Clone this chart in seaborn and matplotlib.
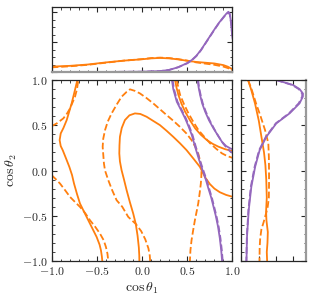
import matplotlib
matplotlib.use("Agg")
import matplotlib.pyplot as plt
from matplotlib.ticker import MultipleLocator, FixedLocator, FixedFormatter
import seaborn as sns

# --- colours ---
ORANGE = "#ff7f0e"
PURPLE = "#9467bd"

# --- main panel contours (cos theta_1, cos theta_2) ---
or_sol_left_x = [-0.716, -0.74, -0.779, -0.834, -0.87, -0.90, -0.912, -0.90, -0.878, -0.84, -0.805, -0.775, -0.753, -0.72, -0.687, -0.645, -0.595, -0.55, -0.503, -0.47, -0.455, -0.445, -0.44]
or_sol_left_y = [1.0, 0.9, 0.742, 0.557, 0.47, 0.41, 0.336, 0.27, 0.225, 0.13, 0.041, -0.05, -0.144, -0.26, -0.365, -0.45, -0.55, -0.64, -0.734, -0.82, -0.882, -0.95, -1.0]

or_das_upleft_x = [-1.0, -0.945, -0.871, -0.83, -0.797, -0.77, -0.742, -0.72, -0.705]
or_das_upleft_y = [0.49, 0.52, 0.576, 0.63, 0.686, 0.75, 0.815, 0.9, 1.0]

or_das_lowleft_x = [-1.0, -0.95, -0.908, -0.85, -0.797, -0.74, -0.687, -0.63, -0.576, -0.52, -0.466, -0.425, -0.40, -0.383, -0.374]
or_das_lowleft_y = [-0.052, -0.10, -0.144, -0.22, -0.292, -0.35, -0.402, -0.47, -0.55, -0.62, -0.697, -0.77, -0.845, -0.92, -1.0]

or_sol_mid_x = [-0.03, -0.031, -0.036, -0.05, -0.07, -0.098, -0.135, -0.171, -0.20, -0.227, -0.245, -0.252, -0.25, -0.245, -0.225, -0.19, -0.14, -0.079, -0.02, 0.05, 0.12, 0.197, 0.27, 0.344, 0.42, 0.492, 0.565, 0.639, 0.70, 0.75, 0.80, 0.86, 0.93, 1.0]
or_sol_mid_y = [-1.0, -0.94, -0.85, -0.72, -0.59, -0.476, -0.35, -0.218, -0.10, 0.004, 0.10, 0.188, 0.28, 0.373, 0.47, 0.557, 0.61, 0.631, 0.625, 0.594, 0.55, 0.502, 0.44, 0.373, 0.30, 0.225, 0.135, 0.041, -0.08, -0.15, -0.20, -0.24, -0.27, -0.29]

or_das_mid_x = [0.089, 0.085, 0.07, 0.035, -0.01, -0.07, -0.153, -0.22, -0.282, -0.33, -0.374, -0.41, -0.422, -0.436, -0.43, -0.41, -0.38, -0.337, -0.28, -0.227, -0.17, -0.134, -0.08, -0.024, 0.05, 0.123, 0.2, 0.271, 0.345, 0.418, 0.49, 0.547, 0.59, 0.621, 0.645, 0.657, 0.655, 0.65, 0.637, 0.621, 0.584, 0.565, 0.547, 0.535, 0.529]
or_das_mid_y = [-1.0, -0.94, -0.86, -0.76, -0.67, -0.59, -0.513, -0.40, -0.328, -0.22, -0.107, 0.0, 0.077, 0.262, 0.35, 0.446, 0.54, 0.631, 0.73, 0.815, 0.87, 0.897, 0.88, 0.852, 0.80, 0.742, 0.675, 0.613, 0.55, 0.483, 0.41, 0.336, 0.26, 0.188, 0.09, 0.004, -0.07, -0.144, -0.25, -0.365, -0.55, -0.66, -0.771, -0.88, -1.0]

or_sol_upright_x = [0.365, 0.38, 0.402, 0.435, 0.476, 0.53, 0.587, 0.65, 0.716, 0.78, 0.845, 0.92, 1.0]
or_sol_upright_y = [1.0, 0.92, 0.834, 0.74, 0.65, 0.555, 0.466, 0.395, 0.337, 0.295, 0.263, 0.235, 0.215]

or_das_upright_x = [0.384, 0.40, 0.421, 0.465, 0.513, 0.565, 0.623, 0.69, 0.753, 0.82, 0.883, 0.94, 1.0]
or_das_upright_y = [1.0, 0.92, 0.834, 0.73, 0.632, 0.54, 0.447, 0.37, 0.30, 0.24, 0.19, 0.16, 0.14]

pu_sol_left_x = [0.33, 0.345, 0.384, 0.43, 0.476, 0.515, 0.55, 0.59, 0.63, 0.67, 0.705, 0.734, 0.765, 0.79, 0.815, 0.84, 0.86, 0.875, 0.885]
pu_sol_left_y = [1.0, 0.9, 0.76, 0.67, 0.577, 0.485, 0.392, 0.25, 0.12, 0.0, -0.1, -0.2, -0.3, -0.4, -0.5, -0.62, -0.75, -0.88, -1.0]
pu_das_left_x = [0.338, 0.353, 0.392, 0.438, 0.484, 0.523, 0.558, 0.598, 0.638, 0.678, 0.713, 0.742, 0.772, 0.797, 0.822, 0.847, 0.867, 0.882, 0.892]
pu_das_left_y = pu_sol_left_y

pu_sol_right_x = [0.615, 0.625, 0.642, 0.665, 0.698, 0.74, 0.79, 0.84, 0.883, 0.93, 0.975, 1.0]
pu_sol_right_y = [1.0, 0.92, 0.834, 0.74, 0.65, 0.555, 0.466, 0.385, 0.318, 0.27, 0.245, 0.235]
pu_das_right_x = [0.62, 0.63, 0.648, 0.672, 0.705, 0.75, 0.80, 0.85, 0.895, 0.94, 0.975, 1.0]
pu_das_right_y = [1.0, 0.92, 0.834, 0.74, 0.65, 0.55, 0.455, 0.37, 0.30, 0.245, 0.21, 0.195]

# --- top marginal (cos theta_1) ---
top_or_x = [-1.0, -0.8, -0.6, -0.4, -0.2, 0.0, 0.1, 0.2, 0.3, 0.4, 0.5, 0.6, 0.7, 0.8, 0.9, 0.95, 1.0]
top_or_sol = [0.19, 0.215, 0.26, 0.33, 0.39, 0.435, 0.465, 0.48, 0.465, 0.43, 0.385, 0.345, 0.32, 0.295, 0.24, 0.185, 0.10]
top_or_das = [0.165, 0.2, 0.25, 0.32, 0.39, 0.44, 0.475, 0.49, 0.475, 0.44, 0.39, 0.33, 0.29, 0.25, 0.19, 0.14, 0.07]
top_pu_x = [-1.0, -0.5, 0.0, 0.2, 0.3, 0.4, 0.5, 0.55, 0.6, 0.65, 0.7, 0.75, 0.8, 0.85, 0.9, 0.93, 0.955, 0.97, 0.985, 1.0]
top_pu_sol = [0.01, 0.01, 0.02, 0.04, 0.08, 0.17, 0.31, 0.41, 0.55, 0.74, 0.97, 1.2, 1.43, 1.65, 1.84, 1.95, 2.02, 1.95, 1.65, 1.13]
top_pu_das = [0.01, 0.01, 0.02, 0.04, 0.08, 0.17, 0.30, 0.40, 0.54, 0.73, 0.96, 1.19, 1.42, 1.64, 1.83, 1.94, 1.99, 1.93, 1.62, 1.10]

# --- right marginal (cos theta_2) ---
rt_pu_y = [1.0, 0.945, 0.9, 0.85, 0.816, 0.742, 0.632, 0.521, 0.374, 0.226, 0.042, -0.179, -0.436, -0.731, -1.0]
rt_pu_sol = [2.01, 2.97, 3.35, 3.55, 3.54, 3.35, 2.78, 2.01, 1.44, 1.05, 0.79, 0.57, 0.42, 0.32, 0.29]
rt_pu_das = [2.0, 2.93, 3.3, 3.5, 3.5, 3.3, 2.74, 1.98, 1.41, 1.02, 0.76, 0.54, 0.40, 0.31, 0.28]
rt_or_sol_y = [1.0, 0.9, 0.742, 0.55, 0.374, 0.2, 0.06, -0.1, -0.3, -0.45, -0.55, -0.68, -0.8, -0.9, -1.0]
rt_or_sol = [0.38, 0.55, 0.78, 1.0, 1.15, 1.3, 1.38, 1.43, 1.46, 1.42, 1.44, 1.52, 1.50, 1.46, 1.48]
rt_or_das_y = [1.0, 0.9, 0.742, 0.6, 0.447, 0.3, 0.15, 0.0, -0.15, -0.3, -0.42, -0.5, -0.57, -0.65, -0.75, -0.85, -1.0]
rt_or_das = [0.38, 0.58, 0.84, 1.1, 1.36, 1.55, 1.58, 1.59, 1.59, 1.58, 1.5, 1.38, 1.28, 1.15, 1.08, 1.05, 1.04]

cos_ticks = [-1.0, -0.5, 0.0, 0.5, 1.0]
cos_labels = ["$-1.0$", "$-0.5$", "$0.0$", "$0.5$", "$1.0$"]

# --- style ---
sns.set_style("ticks")
plt.rcParams["font.family"] = ["DejaVu Serif"]
plt.rcParams["mathtext.fontset"] = "cm"

fig = plt.figure(figsize=(3.14, 3.0), dpi=100)
ax = fig.add_axes([0.1646, 0.13, 0.5758, 0.6033])
ax_top = fig.add_axes([0.1646, 0.759, 0.5758, 0.2167], sharex=ax)
ax_rt = fig.add_axes([0.769, 0.13, 0.2054, 0.6033], sharey=ax)

LW = 1.3


def line(a, x, y, color, dashed=False):
    sns.lineplot(x=x, y=y, sort=False, estimator=None, color=color,
                 linestyle="--" if dashed else "-", lw=LW, ax=a)


# main contours
line(ax, or_sol_left_x, or_sol_left_y, ORANGE)
line(ax, or_das_upleft_x, or_das_upleft_y, ORANGE, True)
line(ax, or_das_lowleft_x, or_das_lowleft_y, ORANGE, True)
line(ax, or_sol_mid_x, or_sol_mid_y, ORANGE)
line(ax, or_das_mid_x, or_das_mid_y, ORANGE, True)
line(ax, or_sol_upright_x, or_sol_upright_y, ORANGE)
line(ax, or_das_upright_x, or_das_upright_y, ORANGE, True)
line(ax, pu_sol_left_x, pu_sol_left_y, PURPLE)
line(ax, pu_das_left_x, pu_das_left_y, PURPLE, True)
line(ax, pu_sol_right_x, pu_sol_right_y, PURPLE)
line(ax, pu_das_right_x, pu_das_right_y, PURPLE, True)

# top marginal
line(ax_top, top_or_x, top_or_sol, ORANGE)
line(ax_top, top_or_x, top_or_das, ORANGE, True)
line(ax_top, top_pu_x, top_pu_sol, PURPLE)
line(ax_top, top_pu_x, top_pu_das, PURPLE, True)

# right marginal
line(ax_rt, rt_or_sol, rt_or_sol_y, ORANGE)
line(ax_rt, rt_or_das, rt_or_das_y, ORANGE, True)
line(ax_rt, rt_pu_sol, rt_pu_y, PURPLE)
line(ax_rt, rt_pu_das, rt_pu_y, PURPLE, True)

# --- axes ---
ax.set_xlim(-1, 1)
ax.set_ylim(-1, 1)
ax.xaxis.set_major_locator(FixedLocator(cos_ticks))
ax.yaxis.set_major_locator(FixedLocator(cos_ticks))
ax.xaxis.set_major_formatter(FixedFormatter(cos_labels))
ax.yaxis.set_major_formatter(FixedFormatter(cos_labels))
ax.xaxis.set_minor_locator(MultipleLocator(0.1))
ax.yaxis.set_minor_locator(MultipleLocator(0.1))
ax.set_xlabel(r"$\cos\theta_1$", fontsize=10, labelpad=2)
ax.set_ylabel(r"$\cos\theta_2$", fontsize=10, labelpad=2)

ax_top.set_ylim(0, 2.17)
ax_top.yaxis.set_major_locator(FixedLocator([0, 1, 2]))
ax_top.yaxis.set_minor_locator(MultipleLocator(0.25))
ax_top.spines["bottom"].set_color("#999999")
ax_top.spines["bottom"].set_linewidth(1.6)

ax_rt.set_xlim(0, 3.72)
ax_rt.xaxis.set_major_locator(FixedLocator([0, 1, 2, 3]))
ax_rt.spines["right"].set_color("#999999")
ax_rt.spines["right"].set_linewidth(1.6)

for a in (ax, ax_top, ax_rt):
    a.tick_params(which="both", top=True, right=True, direction="in", labelsize=8.5, pad=3)
    a.tick_params(which="major", length=3.5, width=0.8)
    a.tick_params(which="minor", length=1.8, width=0.6)
    for s in ("top", "left"):
        a.spines[s].set_linewidth(0.9)
ax.spines["bottom"].set_linewidth(0.9)
ax.spines["right"].set_linewidth(0.9)
ax_top.spines["right"].set_linewidth(0.9)
ax_rt.spines["bottom"].set_linewidth(0.9)

ax_top.tick_params(labelbottom=False, labelleft=False)
ax_top.set_xlabel("")
ax_top.set_ylabel("")
ax_rt.tick_params(labelbottom=False, labelleft=False)
ax_rt.set_xlabel("")
ax_rt.set_ylabel("")

fig.savefig("out.png", dpi=100)
